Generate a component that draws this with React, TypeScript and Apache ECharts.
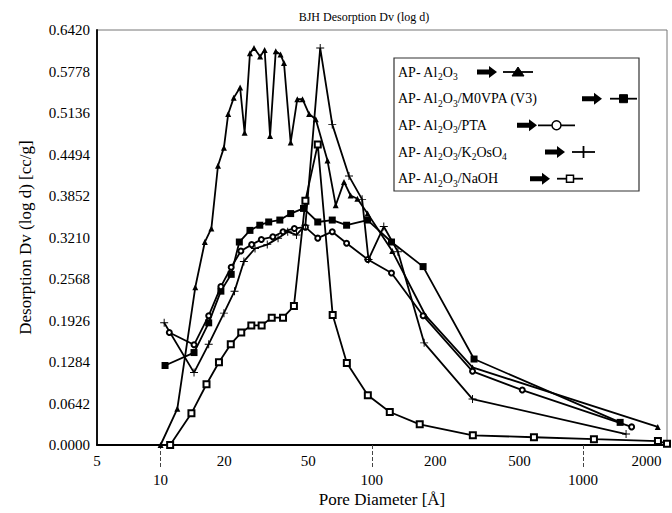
import React, { useEffect, useRef } from 'react';
import * as echarts from 'echarts';

const FONT = "'Liberation Serif', 'Times New Roman', Times, serif";

const xLabelsUpper = [5, 20, 50, 200, 500, 2000];
const xLabelsLower = [10, 100, 1000];
const xMin = 5;
const xMax = 2500;
const yMax = 0.642;
const yStep = 0.0642;

const seriesNames = [
  'AP- Al2O3',
  'AP- Al2O3/M0VPA (V3)',
  'AP- Al2O3/PTA',
  'AP- Al2O3/K2OsO4',
  'AP- Al2O3/NaOH',
];

// AP- Al2O3 (triangles)
const dA = [10, 12.0, 14.6, 16.2, 17.4, 18.7, 19.95, 20.9, 22.2, 23.8, 25.0, 26.5, 27.7, 29.6, 31.1, 33.0, 35.1, 37.0, 38.4, 41.3, 44.4, 47.0, 50.5, 54.3, 61.7, 67.5, 73.9, 79.4, 85.5, 95.5, 125, 180, 300, 2260];
const vA = [0, 0.056, 0.244, 0.314, 0.335, 0.432, 0.46, 0.512, 0.537, 0.553, 0.483, 0.606, 0.614, 0.601, 0.611, 0.478, 0.609, 0.604, 0.591, 0.468, 0.535, 0.535, 0.512, 0.504, 0.44, 0.371, 0.407, 0.386, 0.381, 0.358, 0.3, 0.2, 0.12, 0.028];

// AP- Al2O3/M0VPA (V3) (filled squares)
const dB = [10.5, 14.4, 16.9, 19.3, 21.6, 23.6, 26.5, 29.5, 32.5, 36.7, 41.3, 47.5, 55.5, 65, 76, 95.5, 124, 175, 305, 1500];
const vB = [0.123, 0.143, 0.189, 0.238, 0.264, 0.314, 0.332, 0.34, 0.345, 0.348, 0.358, 0.366, 0.345, 0.348, 0.34, 0.348, 0.314, 0.276, 0.133, 0.035];

// AP- Al2O3/PTA (circles)
const dC = [11, 14.4, 16.9, 19.3, 21.6, 24, 27, 30, 34, 38, 43, 48.5, 55.5, 65, 76, 95.8, 124, 175, 300, 516, 1700];
const vC = [0.174, 0.155, 0.2, 0.245, 0.275, 0.3, 0.31, 0.318, 0.322, 0.33, 0.335, 0.337, 0.32, 0.33, 0.312, 0.287, 0.266, 0.2, 0.114, 0.085, 0.028];

// AP- Al2O3/K2OsO4 (plus)
const dD = [10.4, 14.4, 16.9, 19.95, 22.4, 24.8, 28, 32, 36, 40, 44, 48.5, 57, 65, 78, 90, 96.5, 114, 133, 177, 300, 1600];
const vD = [0.189, 0.112, 0.156, 0.204, 0.238, 0.284, 0.304, 0.31, 0.32, 0.33, 0.325, 0.34, 0.614, 0.496, 0.416, 0.38, 0.287, 0.338, 0.299, 0.158, 0.071, 0.017];

// AP- Al2O3/NaOH (open squares)
const dE = [11.1, 14.0, 16.5, 18.9, 21.5, 24.1, 26.9, 30.1, 33.6, 38.0, 42.8, 48.5, 55.5, 65.3, 76.2, 95.8, 121.7, 168.7, 301, 586, 1127, 2265, 2500];
const vE = [0, 0.049, 0.094, 0.128, 0.156, 0.174, 0.185, 0.185, 0.197, 0.197, 0.215, 0.378, 0.465, 0.201, 0.127, 0.077, 0.051, 0.032, 0.015, 0.012, 0.009, 0.006, 0.002];

const PLUS = 'path://M-0.12,-1 L0.12,-1 L0.12,-0.12 L1,-0.12 L1,0.12 L0.12,0.12 L0.12,1 L-0.12,1 L-0.12,0.12 L-1,0.12 L-1,-0.12 L-0.12,-0.12 Z';

const legendTexts = [
  '{t|AP- Al}{s|2}{t|O}{s|3}',
  '{t|AP- Al}{s|2}{t|O}{s|3}{t|/M0VPA (V3)}',
  '{t|AP- Al}{s|2}{t|O}{s|3}{t|/PTA}',
  '{t|AP- Al}{s|2}{t|O}{s|3}{t|/K}{s|2}{t|OsO}{s|4}',
  '{t|AP- Al}{s|2}{t|O}{s|3}{t|/NaOH}',
];

const lg = (v: number) => Math.log10(v);
const pts = (d: number[], v: number[]) => d.map((x, i) => [lg(x), v[i]]);

function arrow(x: number, y: number) {
  return {
    type: 'polygon',
    shape: {
      points: [
        [x, y - 2.5], [x + 12, y - 2.5], [x + 12, y - 6], [x + 20, y],
        [x + 12, y + 6], [x + 12, y + 2.5], [x, y + 2.5],
      ],
    },
    style: { fill: '#000' },
  };
}

function marker(kind: string, cx: number, cy: number): any[] {
  const st = { fill: '#000', stroke: '#000', lineWidth: 1 };
  if (kind === 'tri') return [{ type: 'polygon', shape: { points: [[cx - 6, cy + 4], [cx + 6, cy + 4], [cx, cy - 5]] }, style: st }];
  if (kind === 'sq') return [{ type: 'rect', shape: { x: cx - 4, y: cy - 4, width: 8, height: 8 }, style: st }];
  if (kind === 'circ') return [{ type: 'circle', shape: { cx, cy, r: 4.5 }, style: { fill: '#fff', stroke: '#000', lineWidth: 1.5 } }];
  if (kind === 'plus') return [{ type: 'line', shape: { x1: cx, y1: cy - 6, x2: cx, y2: cy + 6 }, style: { stroke: '#000', lineWidth: 1.8 } }];
  return [{ type: 'rect', shape: { x: cx - 3.5, y: cy - 3.5, width: 7, height: 7 }, style: { fill: '#fff', stroke: '#000', lineWidth: 1.5 } }];
}

export default function App() {
  const ref = useRef<HTMLDivElement>(null);
  useEffect(() => {
    if (!ref.current) return;
    const chart = echarts.init(ref.current, null, { renderer: 'svg' });
    const symbols = ['triangle', 'rect', 'emptyCircle', PLUS, 'emptyRect'];
    const sizes = [6, 7, 5, 8, 6];
    const datas = [pts(dA, vA), pts(dB, vB), pts(dC, vC), pts(dD, vD), pts(dE, vE)];

    const legendX = 394, legendY = 58, legendW = 245, legendH = 133;
    const rowY = [72, 98.7, 125.3, 152, 178.7];
    const arrowX = [477, 582, 517, 545, 530];
    const lineX = [[503, 533], [610, 637], [538, 575], [572, 595], [557, 583]];
    const kinds = ['tri', 'sq', 'circ', 'plus', 'osq'];

    const legendChildren: any[] = [
      { type: 'rect', shape: { x: legendX, y: legendY, width: legendW, height: legendH }, style: { fill: '#fff', stroke: '#333', lineWidth: 1.2 } },
    ];
    rowY.forEach((y, i) => {
      legendChildren.push({
        type: 'text', x: 398, y,
        style: {
          text: legendTexts[i], fill: '#000', verticalAlign: 'middle', align: 'left',
          rich: {
            t: { fontSize: 14, fontFamily: FONT, fill: '#000', lineHeight: 20, verticalAlign: 'middle' },
            s: { fontSize: 9.5, fontFamily: FONT, fill: '#000', lineHeight: 10, verticalAlign: 'bottom' },
          },
        },
      });
      legendChildren.push(arrow(arrowX[i], y));
      legendChildren.push({ type: 'line', shape: { x1: lineX[i][0], y1: y, x2: lineX[i][1], y2: y }, style: { stroke: '#000', lineWidth: 1.8 } });
      legendChildren.push(...marker(kinds[i], (lineX[i][0] + lineX[i][1]) / 2, y));
    });

    const axisFont = { fontFamily: FONT, fontSize: 15, color: '#000' };
    const fmt = (v: number) => String(Math.round(Math.pow(10, v)));

    chart.setOption({
      animation: false,
      grid: { left: 97, right: 5, top: 30, bottom: 65, show: true, borderColor: '#777', borderWidth: 1, backgroundColor: 'transparent' },
      xAxis: [
        {
          type: 'value', min: lg(xMin), max: lg(xMax), position: 'bottom',
          axisLine: { show: true, onZero: false, lineStyle: { color: '#000', width: 1.8 } },
          axisTick: { show: false },
          splitLine: { show: false },
          axisLabel: { ...axisFont, customValues: xLabelsUpper.map(lg), formatter: fmt, margin: 8 },
          name: 'Pore Diameter [Å]', nameLocation: 'middle', nameGap: 46,
          nameTextStyle: { fontFamily: FONT, fontSize: 17, color: '#000' },
        },
        {
          type: 'value', min: lg(xMin), max: lg(xMax), position: 'bottom',
          axisLine: { show: false, onZero: false },
          axisTick: { show: true, customValues: xLabelsLower.map(lg), length: 24, lineStyle: { type: 'dashed', color: '#444', width: 1 } },
          splitLine: { show: false },
          axisLabel: { ...axisFont, customValues: xLabelsLower.map(lg), formatter: fmt, margin: 27 },
        },
      ],
      yAxis: {
        type: 'value', min: 0, max: yMax, interval: yStep,
        axisLine: { show: true, lineStyle: { color: '#000', width: 1.8 } },
        axisTick: { show: false },
        splitLine: { show: false },
        axisLabel: { ...axisFont, margin: 7, formatter: (v: number) => v.toFixed(4) },
        name: 'Desorption Dv (log d) [cc/g]', nameLocation: 'middle', nameGap: 63,
        nameTextStyle: { fontFamily: FONT, fontSize: 17, color: '#000' },
      },
      series: seriesNames.map((n, i) => ({
        type: 'line', name: n, data: datas[i], xAxisIndex: 0,
        symbol: symbols[i], symbolSize: sizes[i],
        lineStyle: { color: '#000', width: 1.8 },
        itemStyle: { color: '#000' },
        emphasis: { disabled: true },
      })),
      graphic: [
        { type: 'text', x: 364, y: 17, z: 100, style: { text: 'BJH Desorption Dv (log d)', fontFamily: FONT, fontSize: 12, fill: '#000', align: 'center', verticalAlign: 'middle' } },
        { type: 'group', z: 100, children: legendChildren },
      ],
    });
    return () => chart.dispose();
  }, []);
  return <div ref={ref} style={{ width: 672, height: 513, position: 'absolute', left: 0, top: 0 }} />;
}
